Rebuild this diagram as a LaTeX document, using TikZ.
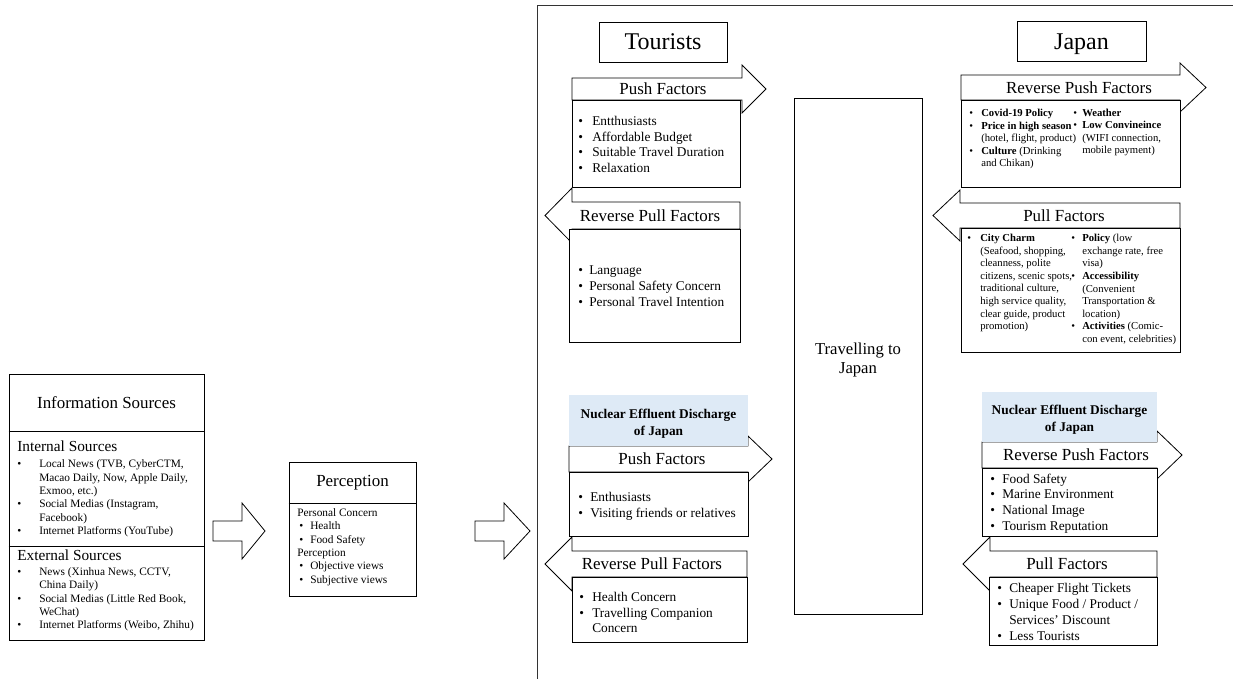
\documentclass[tikz,border=0pt]{standalone}
\usepackage{fontspec}
\setmainfont{Liberation Serif}
\usetikzlibrary{fit}
\definecolor{nucBlue}{RGB}{222,234,246}
\newcommand{\bitem}[2][9pt]{\makebox[#1][l]{\textbullet}#2}
\newcommand{\bcont}[1][9pt]{\hspace*{#1}}

\begin{document}
\begin{tikzpicture}[
    x=0.75pt, y=-0.75pt,
    every node/.style={inner sep=0pt},
    box/.style={draw=black, line width=0.6pt, fill=white, inner sep=0pt},
    nucbox/.style={fill=nucBlue, inner sep=0pt},
    nuctext/.style={align=center, yshift=-2.5pt, font=\fontsize{10}{12.75}\selectfont\bfseries},
    blockarr/.style={draw=black, line width=0.6pt, fill=white, line join=miter},
    hdr/.style={font=\fontsize{12.7}{15}\selectfont},
    ttl/.style={font=\fontsize{18}{21}\selectfont},
    lst/.style={align=left, anchor=west, font=\fontsize{10}{11.8}\selectfont},
    sml/.style={align=left, anchor=west, font=\fontsize{8.5}{10}\selectfont},
    tny/.style={align=left, anchor=west, font=\fontsize{8}{9.4}\selectfont}
]
  \useasboundingbox (0,0) rectangle (1233,679);

  % --- Information sources ---
  \node[box, fit={(9,374) (204,640)}] (info) {};
  \draw[line width=0.6pt] (info.west |- 0,431) -- (info.east |- 0,431);
  \draw[line width=0.6pt] (info.west |- 0,546) -- (info.east |- 0,546);
  \node[hdr] (infoTitle) at (106.5,403) {Information Sources};
  \node[anchor=west, font=\fontsize{11.5}{13}\selectfont] (intHead) at (17,446) {Internal Sources};
  \node[sml] (intList) at (17,498.5) {%
    \bitem[16.5pt]{Local News (TVB, CyberCTM,}\\
    \bcont[16.5pt]Macao Daily, Now, Apple Daily,\\
    \bcont[16.5pt]Exmoo, etc.)\\
    \bitem[16.5pt]{Social Medias (Instagram,}\\
    \bcont[16.5pt]Facebook)\\
    \bitem[16.5pt]{Internet Platforms (YouTube)}};
  \node[anchor=west, font=\fontsize{11.5}{13}\selectfont] (extHead) at (17,555) {External Sources};
  \node[sml] (extList) at (17,599.5) {%
    \bitem[16.5pt]{News (Xinhua News, CCTV,}\\
    \bcont[16.5pt]China Daily)\\
    \bitem[16.5pt]{Social Medias (Little Red Book,}\\
    \bcont[16.5pt]WeChat)\\
    \bitem[16.5pt]{Internet Platforms (Weibo, Zhihu)}};

  % --- Perception ---
  \node[box, fit={(289,462) (416,596)}] (perc) {};
  \draw[line width=0.6pt] (perc.west |- 0,503) -- (perc.east |- 0,503);
  \node[hdr] (percTitle) at (352.5,483) {Perception};
  \node[sml, font=\fontsize{8.5}{10.1}\selectfont] (percList) at (297,547) {%
    Personal Concern\\
    \hspace*{1.5pt}\bitem[8.25pt]{Health}\\
    \hspace*{1.5pt}\bitem[8.25pt]{Food Safety}\\
    Perception\\
    \hspace*{1.5pt}\bitem[8.25pt]{Objective views}\\
    \hspace*{1.5pt}\bitem[8.25pt]{Subjective views}};

  % --- Big block arrows ---
  \draw[blockarr] (213,521) -- (242,521) -- (242,503) -- (265,531)
    -- (242,559) -- (242,541) -- (213,541) -- cycle;
  \draw[blockarr] (475,521) -- (504,521) -- (504,503) -- (530,531)
    -- (504,559) -- (504,541) -- (475,541) -- cycle;

  % --- Frame ---
  \draw[line width=0.6pt, black!80] (537,679) -- (537,5) -- (1233,5);

  % --- Titles ---
  \node[box, fit={(599,22) (727,62)}] (tourists) {};
  \node[ttl] (touristsText) at (tourists.center) {Tourists};
  \node[box, fit={(1017,21) (1146,61)}] (japan) {};
  \node[ttl, text height=12.4pt, text depth=0pt] (japanText) at (japan.center) {Japan};
  \node[box, fit={(794,98) (922,614)}] (travel) {};
  \node[align=center, yshift=-3pt, font=\fontsize{12.5}{14.3}\selectfont] (travelText)
    at (travel.center) {Travelling to\\Japan};

  % --- Tourists: push factors ---
  \draw[blockarr] (572,78) -- (742,78) -- (742,65) -- (766,89)
    -- (742,113) -- (742,100) -- (572,100) -- cycle;
  \node[hdr] (pushTlab) at (663,89) {Push Factors};
  \node[box, fit={(572,100) (740,187)}] (pushT) {};
  \node[lst] (pushTlist) at (578,144.5) {%
    \bitem[10.5pt]{Entthusiasts}\\
    \bitem[10.5pt]{Affordable Budget}\\
    \bitem[10.5pt]{Suitable Travel Duration}\\
    \bitem[10.5pt]{Relaxation}};

  % --- Tourists: reverse pull factors ---
  \draw[blockarr] (740,202) -- (572,202) -- (572,188) -- (545,215.5)
    -- (572,243) -- (572,229) -- (740,229) -- cycle;
  \node[hdr] (rpullTlab) at (650,215.5) {Reverse Pull Factors};
  \node[box, fit={(569,229) (740,342)}] (rpullT) {};
  \node[lst, font=\fontsize{10}{12}\selectfont] (rpullTlist) at (578,286) {%
    \bitem[8.25pt]{Language}\\
    \bitem[8.25pt]{Personal Safety Concern}\\
    \bitem[8.25pt]{Personal Travel Intention}};

  % --- Japan: reverse push factors ---
  \draw[blockarr] (961,75) -- (1180,75) -- (1180,63) -- (1206,87.5)
    -- (1180,112) -- (1180,100) -- (961,100) -- cycle;
  \node[hdr] (rpushJlab) at (1079,87.5) {Reverse Push Factors};
  \node[box, fit={(961,100) (1180,187)}] (rpushJ) {};
  \node[tny] (rpushJcolA) at (969,139) {%
    \bitem{\textbf{Covid-19 Policy}}\\
    \bitem{\textbf{Price in high season}}\\
    \bcont (hotel, flight, product)\\
    \bitem{\textbf{Culture} (Drinking}\\
    \bcont and Chikan)};
  \node[tny] (rpushJcolB) at (1073,132.5) {%
    \bitem[6.75pt]{\textbf{Weather}}\\
    \bitem[6.75pt]{\textbf{Low Convineince}}\\
    \bcont[6.75pt](WIFI connection,\\
    \bcont[6.75pt]mobile payment)};

  % --- Japan: pull factors ---
  \draw[blockarr] (1180,203) -- (960,203) -- (960,190) -- (933,215.5)
    -- (960,241) -- (960,228) -- (1180,228) -- cycle;
  \node[hdr] (pullJlab) at (1064,215.5) {Pull Factors};
  \node[box, fit={(961,228) (1180,352)}] (pullJ) {};
  \node[tny, font=\fontsize{8}{9.45}\selectfont] (pullJcolA) at (967,283) {%
    \bitem[9.75pt]{\textbf{City Charm}}\\
    \bcont[9.75pt](Seafood, shopping,\\
    \bcont[9.75pt]cleanness, polite\\
    \bcont[9.75pt]citizens, scenic spots,\\
    \bcont[9.75pt]traditional culture,\\
    \bcont[9.75pt]high service quality,\\
    \bcont[9.75pt]clear guide, product\\
    \bcont[9.75pt]promotion)};
  \node[tny, font=\fontsize{8}{9.45}\selectfont] (pullJcolB) at (1071,289.5) {%
    \bitem[8.25pt]{\textbf{Policy} (low}\\
    \bcont[8.25pt]exchange rate, free\\
    \bcont[8.25pt]visa)\\
    \bitem[8.25pt]{\textbf{Accessibility}}\\
    \bcont[8.25pt](Convenient\\
    \bcont[8.25pt]Transportation \&\\
    \bcont[8.25pt]location)\\
    \bitem[8.25pt]{\textbf{Activities} (Comic-}\\
    \bcont[8.25pt]con event, celebrities)};

  % --- Tourists under the nuclear effluent discharge ---
  \draw[blockarr] (569,446) -- (748,446) -- (748,436) -- (772,459)
    -- (748,482) -- (748,472) -- (569,472) -- cycle;
  \node[nucbox, fit={(569,395) (748,445.7)}] (nucT) {};
  \node[nuctext] (nucTtext) at (nucT.center) {Nuclear Effluent Discharge\\of Japan};
  \node[hdr] (pushT2lab) at (662,459) {Push Factors};
  \node[box, fit={(569,472) (748,536)}] (pushT2) {};
  \node[lst] (pushT2list) at (578,506) {%
    \bitem{Enthusiasts}\\
    \bitem{Visiting friends or relatives}};

  \draw[blockarr] (747,551) -- (572,551) -- (572,537) -- (545,564)
    -- (572,591) -- (572,577) -- (747,577) -- cycle;
  \node[hdr] (rpullT2lab) at (652,564) {Reverse Pull Factors};
  \node[box, fit={(572,577) (747,642)}] (rpullT2) {};
  \node[lst] (rpullT2list) at (579,612.5) {%
    \bitem[9.75pt]{Health Concern}\\
    \bitem[9.75pt]{Travelling Companion}\\
    \bcont[9.75pt]Concern};

  % --- Japan under the nuclear effluent discharge ---
  \draw[blockarr] (982,442) -- (1157,442) -- (1157,431) -- (1182,455)
    -- (1157,479) -- (1157,468) -- (982,468) -- cycle;
  \node[nucbox, fit={(982,392) (1157,441.7)}] (nucJ) {};
  \node[nuctext] (nucJtext) at (nucJ.center) {Nuclear Effluent Discharge\\of Japan};
  \node[hdr] (rpushJ2lab) at (1076,455) {Reverse Push Factors};
  \node[box, fit={(982,468) (1157,536)}] (rpushJ2) {};
  \node[lst] (rpushJ2list) at (990,503.5) {%
    \bitem{Food Safety}\\
    \bitem{Marine Environment}\\
    \bitem{National Image}\\
    \bitem{Tourism Reputation}};

  \draw[blockarr] (1157,551) -- (990,551) -- (990,537) -- (963,564)
    -- (990,591) -- (990,577) -- (1157,577) -- cycle;
  \node[hdr] (pullJ2lab) at (1067,564) {Pull Factors};
  \node[box, fit={(989,577) (1157,645)}] (pullJ2) {};
  \node[lst] (pullJ2list) at (997,612) {%
    \bitem{Cheaper Flight Tickets}\\
    \bitem{Unique Food / Product /}\\
    \bcont Services' Discount\\
    \bitem{Less Tourists}};
\end{tikzpicture}
\end{document}
